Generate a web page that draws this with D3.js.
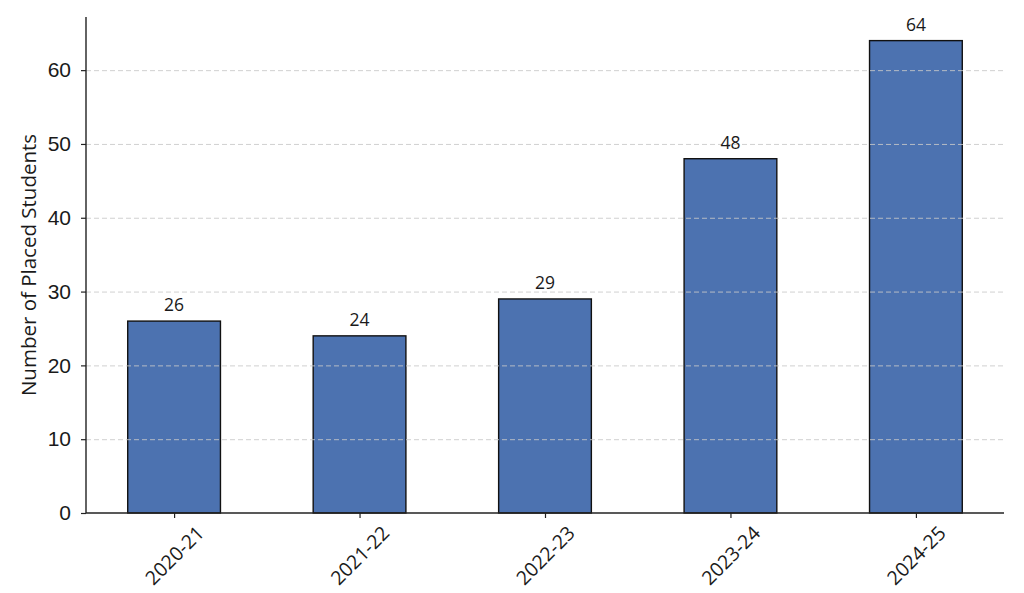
<!DOCTYPE html>
<html>
<head>
<meta charset="utf-8">
<script src="https://cdn.jsdelivr.net/npm/d3@7"></script>
<style>
  body { margin: 0; background: #fff; }
  svg { font-family: "Open Sans", sans-serif; }
  .tick text { fill: #1a1a1a; }
  .grid line { stroke: #c8c8c8; stroke-dasharray: 5,3; }
  .grid .domain { display: none; }
</style>
</head>
<body>
<div id="chart"></div>
<script>
'use strict';
// Data
const years = ['2020-21', '2021-22', '2022-23', '2023-24', '2024-25']
const placed = [26, 24, 29, 48, 64]
const yTicks = [0, 10, 20, 30, 40, 50, 60]

const W = 1024
const H = 593
const margin = { top: 17, right: 20, bottom: 80, left: 86 }
const width = W - margin.left - margin.right
const height = H - margin.top - margin.bottom

const svg = d3.select('#chart').append('svg')
    .attr('width', W)
    .attr('height', H)
    .append('g')
    .attr('transform', `translate(${margin.left},${margin.top})`)

// x as a linear index scale so bar width and padding match the original layout
const x = d3.scaleLinear().domain([-0.475, years.length - 1 + 0.475]).range([0, width])
const barW = x(0.25) - x(-0.25)
const y = d3.scaleLinear().domain([0, d3.max(placed) * 1.05]).range([height, 0])

// Bars
svg.selectAll('rect.bar').data(placed).join('rect')
    .attr('class', 'bar')
    .attr('x', (d, i) => x(i) - barW / 2)
    .attr('y', d => y(d))
    .attr('width', barW)
    .attr('height', d => y(0) - y(d))
    .attr('fill', '#4c72b0')
    .attr('stroke', '#111')
    .attr('stroke-width', 1.4)

// Gridlines drawn on top of the bars
svg.append('g')
    .attr('class', 'grid')
    .call(d3.axisLeft(y).tickValues(yTicks.slice(1)).tickSize(-width).tickFormat(''))
    .selectAll('line').attr('stroke-width', 1).attr('opacity', 0.85)

// Value labels
svg.selectAll('text.val').data(placed).join('text')
    .attr('class', 'val')
    .attr('x', (d, i) => x(i))
    .attr('y', d => y(d) - 10)
    .attr('text-anchor', 'middle')
    .attr('font-size', 17.5)
    .attr('fill', '#1a1a1a')
    .text(d => d)

// Y axis
const yAxis = svg.append('g')
    .call(d3.axisLeft(y).tickValues(yTicks).tickSize(5).tickPadding(10))
yAxis.select('.domain').attr('stroke', '#222').attr('stroke-width', 1.4)
    .attr('d', `M0,${height}V0`)
yAxis.selectAll('.tick line').attr('stroke', '#222').attr('stroke-width', 1.2)
yAxis.selectAll('.tick text').attr('font-size', 21)

// X axis
const xAxis = svg.append('g')
    .attr('transform', `translate(0,${height})`)
    .call(d3.axisBottom(x).tickValues(d3.range(years.length)).tickSize(5).tickFormat(''))
xAxis.select('.domain').attr('stroke', '#222').attr('stroke-width', 1.4)
    .attr('d', `M0,0H${width}`)
xAxis.selectAll('.tick line').attr('stroke', '#222').attr('stroke-width', 1.2)

// Rotated x labels, centred under each tick
svg.selectAll('text.xlab').data(years).join('text')
    .attr('class', 'xlab')
    .attr('transform', (d, i) => `translate(${x(i)},${height + 42}) rotate(-45)`)
    .attr('text-anchor', 'middle')
    .attr('dominant-baseline', 'central')
    .attr('font-size', 19.5)
    .attr('fill', '#1a1a1a')
    .text(d => d)

// Y label
svg.append('text')
    .attr('transform', `translate(${-50},${height / 2}) rotate(-90)`)
    .attr('text-anchor', 'middle')
    .attr('font-size', 20.5)
    .attr('fill', '#1a1a1a')
    .text('Number of Placed Students')
</script>
</body>
</html>
